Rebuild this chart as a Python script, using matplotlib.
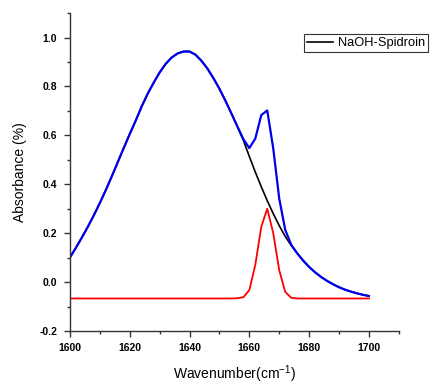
import matplotlib
matplotlib.use("Agg")
import matplotlib.pyplot as plt
from matplotlib.ticker import MultipleLocator

plt.rcParams['font.family'] = ['Liberation Sans', 'DejaVu Sans']
plt.rcParams['mathtext.fontset'] = 'custom'
plt.rcParams['mathtext.rm'] = 'Liberation Sans'
plt.rcParams['mathtext.it'] = 'Liberation Sans:italic'
plt.rcParams['mathtext.bf'] = 'Liberation Sans:bold'

# wavenumber grid (cm-1)
wavenumber = list(range(1600, 1702, 2))

# fitted main band (black)
band_main = [0.100, 0.140, 0.182, 0.226, 0.273, 0.323, 0.376, 0.432, 0.490, 0.548,
             0.605, 0.660, 0.718, 0.770, 0.815, 0.857, 0.892, 0.918, 0.935, 0.943,
             0.943, 0.930, 0.905, 0.873, 0.834, 0.791, 0.742, 0.690, 0.636, 0.580,
             0.514, 0.450, 0.390, 0.333, 0.280, 0.231, 0.187, 0.150, 0.118, 0.088,
             0.062, 0.040, 0.021, 0.005, -0.009, -0.021, -0.031, -0.039, -0.046, -0.052,
             -0.057]

# second band (red)
band_small = [-0.067] * 28 + [-0.066, -0.062, -0.033, 0.070, 0.226, 0.300, 0.200,
                              0.049, -0.040, -0.064] + [-0.067] * 13

# cumulative fit (blue)
band_sum = [0.100, 0.140, 0.182, 0.226, 0.273, 0.323, 0.376, 0.432, 0.490, 0.548,
            0.605, 0.660, 0.718, 0.770, 0.815, 0.857, 0.892, 0.918, 0.935, 0.943,
            0.943, 0.930, 0.905, 0.873, 0.834, 0.791, 0.742, 0.690, 0.637, 0.585,
            0.548, 0.587, 0.683, 0.702, 0.547, 0.342, 0.214, 0.153, 0.118, 0.088,
            0.062, 0.040, 0.021, 0.005, -0.009, -0.021, -0.031, -0.039, -0.046, -0.052,
            -0.057]

fig = plt.figure(figsize=(4.34, 3.86), dpi=100)
ax = fig.add_axes([0.161, 0.1425, 0.758, 0.8235])

line_main, = ax.plot(wavenumber, band_main, color='black', lw=1.2, label='NaOH-Spidroin')
ax.plot(wavenumber, band_small, color='#ff0000', lw=1.3)
ax.plot(wavenumber, band_sum, color='#0000ee', lw=1.6)

ax.set_xlim(1600, 1710)
ax.set_ylim(-0.2, 1.1)
ax.xaxis.set_minor_locator(MultipleLocator(10))
ax.yaxis.set_minor_locator(MultipleLocator(0.1))
ax.set_xticks([1600, 1620, 1640, 1660, 1680, 1700])
ax.set_xticklabels(['1600', '1620', '1640', '1660', '1680', '1700'])
ax.set_yticks([-0.2, 0.0, 0.2, 0.4, 0.6, 0.8, 1.0])
ax.set_yticklabels(['-0.2', '0.0', '0.2', '0.4', '0.6', '0.8', '1.0'])

for s in ['top', 'right']:
    ax.spines[s].set_visible(False)
for s in ['left', 'bottom']:
    ax.spines[s].set_linewidth(1.0)
    ax.spines[s].set_color('#333333')

ax.tick_params(which='major', direction='out', length=4, width=1, pad=5,
               labelsize=7.5, color='#333333')
ax.tick_params(which='minor', direction='out', length=2.5, width=1, color='#333333')
for lab in ax.get_xticklabels() + ax.get_yticklabels():
    lab.set_fontweight('bold')

ax.set_xlabel('Wavenumber(cm$^{-1}$)', fontsize=10, labelpad=7)
ax.set_ylabel('Absorbance (%)', fontsize=10, labelpad=9)

leg = fig.legend(handles=[line_main], loc='upper left', bbox_to_anchor=(0.70, 0.912),
                 fontsize=9.3, frameon=True, fancybox=False, handlelength=2.0,
                 handletextpad=0.4, borderpad=0.25, borderaxespad=0)
leg.get_frame().set_edgecolor('black')
leg.get_frame().set_linewidth(0.8)

fig.savefig('out.png', dpi=100)
